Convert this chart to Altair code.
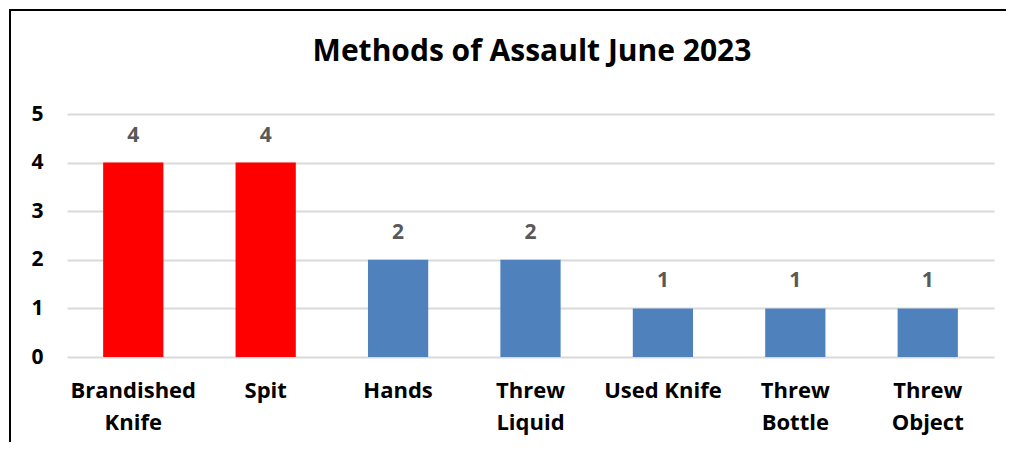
import altair as alt
import pandas as pd

title_text = "Methods of Assault June 2023"
methods = ["Brandished Knife", "Spit", "Hands", "Threw Liquid", "Used Knife", "Threw Bottle", "Threw Object"]
counts = [4, 4, 2, 2, 1, 1, 1]
highlighted = ["Brandished Knife", "Spit"]
y_ticks = [0, 1, 2, 3, 4, 5]

df = pd.DataFrame({"method": methods, "count": counts})

FONT = "Open Sans"

x_enc = alt.X(
    "method:N",
    sort=methods,
    title=None,
    scale=alt.Scale(paddingInner=0.545, paddingOuter=0.273),
    axis=alt.Axis(
        labelAngle=0,
        labelFont=FONT,
        labelFontSize=22,
        labelFontWeight="bold",
        labelColor="#000000",
        labelPadding=23,
        labelLineHeight=32,
        labelExpr="datum.value == 'Used Knife' ? datum.value : split(datum.value, ' ')",
        domain=False,
        ticks=False,
        grid=False,
    ),
)

y_enc = alt.Y(
    "count:Q",
    title=None,
    scale=alt.Scale(domain=[0, 5], nice=False),
    axis=alt.Axis(
        values=y_ticks,
        labelFont=FONT,
        labelFontSize=21,
        labelFontWeight="bold",
        labelColor="#000000",
        labelPadding=24,
        domain=False,
        ticks=False,
        grid=True,
        gridColor="#D9D9D9",
        gridWidth=2,
    ),
)

bars = alt.Chart(df).mark_bar().encode(
    x=x_enc,
    y=y_enc,
    color=alt.condition(
        alt.FieldOneOfPredicate(field="method", oneOf=highlighted),
        alt.value("#FF0000"),
        alt.value("#4F81BD"),
    ),
)

labels = alt.Chart(df).mark_text(
    font=FONT, fontSize=21, fontWeight="bold", color="#595959",
    baseline="alphabetic", dy=-21,
).encode(
    x=alt.X("method:N", sort=methods),
    y="count:Q",
    text="count:Q",
)

frame_df = pd.DataFrame({"title": [title_text]})
top_border = alt.Chart(frame_df).mark_rule(color="#000000", strokeWidth=2).encode(
    x=alt.value(-58), x2=alt.value(939), y=alt.value(-104)
)
left_border = alt.Chart(frame_df).mark_rule(color="#000000", strokeWidth=2).encode(
    x=alt.value(-57), y=alt.value(-105), y2=alt.value(328)
)
title = alt.Chart(frame_df).mark_text(
    font=FONT, fontSize=30, fontWeight="bold", color="#000000",
    align="center", baseline="alphabetic",
).encode(
    x=alt.value(465), y=alt.value(-53), text="title:N"
)

chart = alt.layer(bars, labels, top_border, left_border, title).properties(
    width=927,
    height=243,
    padding=0,
).configure_view(stroke=None)

chart.save("out.html", embed_options={"renderer": "svg", "actions": False})
